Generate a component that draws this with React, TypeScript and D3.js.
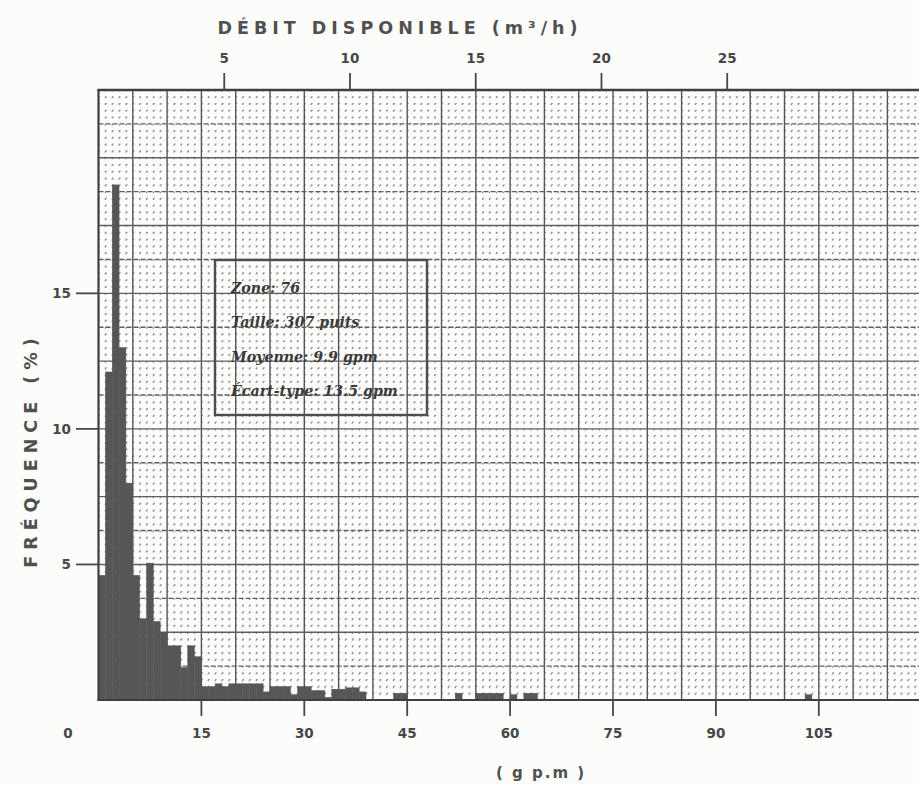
import React from 'react';
import * as d3 from 'd3';

// Histogram bins (gpm, 1 gpm wide) and frequency (%)
const binStart = [
  0, 1, 2, 3, 4, 5, 6, 7, 8, 9, 10, 11, 12, 13, 14,
  15, 16, 17, 18, 19, 20, 21, 22, 23, 24, 25, 26, 27, 28, 29,
  30, 31, 32, 33, 34, 35, 36, 37, 38,
  43, 44, 52, 55, 56, 57, 58, 60, 62, 63, 103,
];
const freq = [
  4.6, 12.1, 19.0, 13.0, 8.0, 4.6, 3.0, 5.05, 2.9, 2.5, 2.0, 2.0, 1.2, 2.0, 1.6,
  0.5, 0.5, 0.6, 0.5, 0.6, 0.6, 0.6, 0.6, 0.6, 0.3, 0.5, 0.5, 0.5, 0.2, 0.5,
  0.5, 0.35, 0.35, 0.1, 0.4, 0.4, 0.45, 0.45, 0.3,
  0.25, 0.25, 0.25, 0.25, 0.25, 0.25, 0.25, 0.2, 0.25, 0.25, 0.2,
];
const binWidth = 1;

const bottomTicks = [15, 30, 45, 60, 75, 90, 105];
const topTicksM3h = [5, 10, 15, 20, 25];
const yTicks = [5, 10, 15];
const GPM_PER_M3H = 3.666; // imperial gallons per minute in 1 m3/h

const infoLines = ['Zone: 76', 'Taille: 307 puits', 'Moyenne: 9.9 gpm', 'Écart-type: 13.5 gpm'];

const topTitle = 'DÉBIT DISPONIBLE (m³/h)';
const yTitle = 'FRÉQUENCE (%)';
const xTitle = '( g p.m )';

export default function App() {
  const W = 919;
  const H = 785;
  const x = d3.scaleLinear().domain([0, 120]).range([98.5, 98.5 + 120 * 6.86]);
  const y = d3.scaleLinear().domain([0, 22.5]).range([700, 90]);
  const x0 = x(0);
  const xEnd = W + 5;
  const yTop = y(22.5);
  const yBot = y(0);

  const minorX = d3.range(0, 121, 1).filter((v) => v % 5 !== 0);
  const majorX = d3.range(5, 121, 5);
  const minorY = d3.range(0, 22.5, 0.25).filter((v) => Math.abs(v / 1.25 - Math.round(v / 1.25)) > 1e-6);
  const majorY = d3.range(1.25, 22.5, 1.25);

  const tickFont = "'DejaVu Sans', 'Liberation Sans', sans-serif";
  const ink = '#474747';

  return (
    <svg
      width={W}
      height={H}
      style={{ position: 'absolute', left: 0, top: 0, background: '#fcfcfb' }}
    >
      {/* minor dotted grid */}
      <g>
        {minorX.map((v) => (
          <line
            key={'mx' + v}
            x1={x(v)}
            x2={x(v)}
            y1={yTop}
            y2={yBot}
            stroke="#8e8e8e"
            strokeWidth={1.3}
            strokeDasharray="1.5 5.28"
          />
        ))}
        {minorY.map((v) => (
          <line
            key={'my' + v}
            x1={x0}
            x2={xEnd}
            y1={y(v)}
            y2={y(v)}
            stroke="#8e8e8e"
            strokeWidth={1.3}
            strokeDasharray="1.5 5.36"
          />
        ))}
      </g>
      {/* major grid */}
      <g>
        {majorX.map((v) => (
          <line key={'Mx' + v} x1={x(v)} x2={x(v)} y1={yTop} y2={yBot} stroke="#555" strokeWidth={1.4} />
        ))}
        {majorY.map((v, i) => (
          <line
            key={'My' + v}
            x1={x0}
            x2={xEnd}
            y1={y(v)}
            y2={y(v)}
            stroke="#5e5e5e"
            strokeWidth={1.4}
            strokeDasharray={i % 2 === 1 ? undefined : '5 2'}
          />
        ))}
      </g>

      {/* bars */}
      <g>
        {binStart.map((b, i) => (
          <rect
            key={'b' + b}
            x={x(b)}
            y={y(freq[i])}
            width={x(b + binWidth) - x(b)}
            height={yBot - y(freq[i])}
            fill="#565656"
            stroke="#565656"
            strokeWidth={0.4}
          />
        ))}
      </g>

      {/* frame */}
      <line x1={x0} x2={x0} y1={yTop - 1} y2={yBot + 1} stroke="#3f3f3f" strokeWidth={2.2} />
      <line x1={x0 - 1} x2={xEnd} y1={yTop} y2={yTop} stroke="#3f3f3f" strokeWidth={2.6} />
      <line x1={x0 - 1} x2={xEnd} y1={yBot} y2={yBot} stroke="#3f3f3f" strokeWidth={2.2} />

      {/* y ticks */}
      {yTicks.map((v) => (
        <g key={'yt' + v}>
          <line x1={76} x2={x0} y1={y(v)} y2={y(v)} stroke={ink} strokeWidth={1.8} />
          <text
            x={71}
            y={y(v)}
            textAnchor="end"
            dominantBaseline="central"
            fontFamily={tickFont}
            fontWeight="bold"
            fontSize={13.5}
            fill={ink}
          >
            {v}
          </text>
        </g>
      ))}
      <text
        x={68}
        y={733}
        textAnchor="middle"
        dominantBaseline="central"
        fontFamily={tickFont}
        fontWeight="bold"
        fontSize={13.5}
        fill={ink}
      >
        0
      </text>

      {/* bottom ticks */}
      {bottomTicks.map((v) => (
        <g key={'bt' + v}>
          <line x1={x(v)} x2={x(v)} y1={yBot} y2={716} stroke={ink} strokeWidth={1.8} />
          <text
            x={x(v)}
            y={733}
            textAnchor="middle"
            dominantBaseline="central"
            fontFamily={tickFont}
            fontWeight="bold"
            fontSize={13.5}
            fill={ink}
          >
            {v}
          </text>
        </g>
      ))}

      {/* top ticks (m3/h) */}
      {topTicksM3h.map((v) => (
        <g key={'tt' + v}>
          <line
            x1={x(v * GPM_PER_M3H)}
            x2={x(v * GPM_PER_M3H)}
            y1={yTop}
            y2={73}
            stroke={ink}
            strokeWidth={1.8}
          />
          <text
            x={x(v * GPM_PER_M3H)}
            y={58}
            textAnchor="middle"
            dominantBaseline="central"
            fontFamily={tickFont}
            fontWeight="bold"
            fontSize={13.5}
            fill={ink}
          >
            {v}
          </text>
        </g>
      ))}

      {/* titles */}
      <text
        x={400}
        y={28}
        textAnchor="middle"
        dominantBaseline="central"
        fontFamily={tickFont}
        fontWeight="600"
        fontSize={17.5}
        letterSpacing={5}
        fill="#505050"
      >
        {topTitle}
      </text>
      <text
        transform={`translate(31, 450) rotate(-90)`}
        textAnchor="middle"
        dominantBaseline="central"
        fontFamily={tickFont}
        fontWeight="600"
        fontSize={17.5}
        letterSpacing={6}
        fill="#505050"
      >
        {yTitle}
      </text>
      <text
        x={541}
        y={773}
        textAnchor="middle"
        dominantBaseline="central"
        fontFamily={tickFont}
        fontWeight="600"
        fontSize={15}
        letterSpacing={2}
        fill="#505050"
      >
        {xTitle}
      </text>

      {/* info box */}
      <rect x={215} y={260} width={212} height={155} fill="none" stroke="#4d4d4d" strokeWidth={2.4} />
      {infoLines.map((t, i) => (
        <text
          key={'il' + i}
          x={231}
          y={288 + i * 34.3}
          dominantBaseline="central"
          fontFamily="'DejaVu Serif', 'Liberation Serif', serif"
          fontStyle="italic"
          fontWeight="600"
          fontSize={14.2}
          fill="#3a3a3a"
        >
          {t}
        </text>
      ))}
    </svg>
  );
}
